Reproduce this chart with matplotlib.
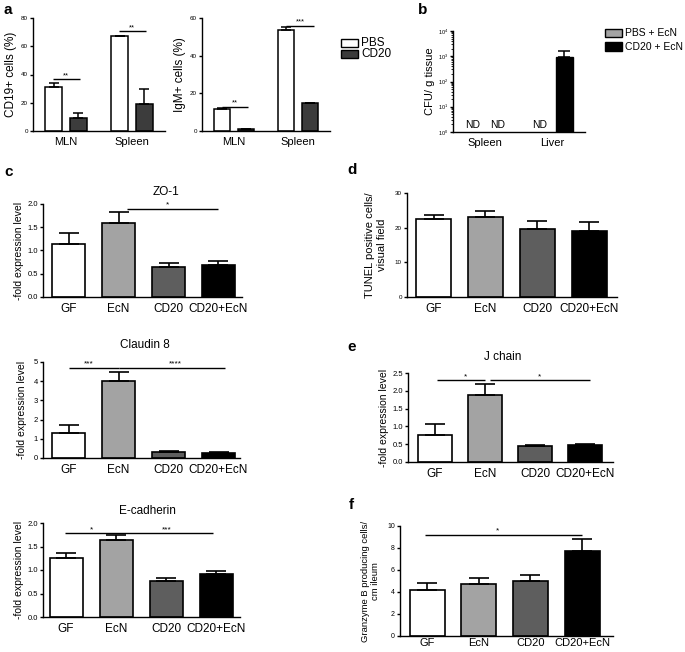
import numpy as np
import matplotlib
matplotlib.use("Agg")
from matplotlib import pyplot as plt
from matplotlib.patches import Rectangle
from matplotlib.ticker import LogLocator, NullFormatter, FormatStrFormatter

plt.rcParams['font.family'] = ['Liberation Sans', 'DejaVu Sans']

W, H = 685, 652

# panel a
groups_a = ['MLN', 'Spleen']
legend_a = ['PBS', 'CD20']
cd19_pbs = [31.0, 67.0]
cd19_pbs_err = [3.0, 0.5]
cd19_cd20 = [9.0, 19.0]
cd19_cd20_err = [4.0, 10.5]
igm_pbs = [11.5, 53.5]
igm_pbs_err = [0.8, 1.5]
igm_cd20 = [1.0, 15.0]
igm_cd20_err = [0.3, 0.0]

# panel b (None = not detected)
groups_b = ['Spleen', 'Liver']
legend_b = ['PBS + EcN', 'CD20 + EcN']
cfu_pbs_ecn = [None, None]
cfu_cd20_ecn = [None, 900.0]
cfu_cd20_ecn_err = [0.0, 700.0]

# panels c-f
groups = ['GF', 'EcN', 'CD20', 'CD20+EcN']
zo1 = [1.15, 1.60, 0.64, 0.69]
zo1_err = [0.23, 0.23, 0.09, 0.09]
claudin8 = [1.28, 4.03, 0.32, 0.24]
claudin8_err = [0.44, 0.47, 0.03, 0.06]
ecad = [1.26, 1.64, 0.76, 0.91]
ecad_err = [0.11, 0.10, 0.07, 0.07]
tunel = [22.4, 23.0, 19.5, 19.1]
tunel_err = [1.2, 1.8, 2.3, 2.5]
jchain = [0.77, 1.87, 0.46, 0.48]
jchain_err = [0.30, 0.33, 0.03, 0.03]
granzyme = [4.15, 4.75, 5.0, 7.7]
granzyme_err = [0.70, 0.50, 0.55, 1.15]

COLORS_4 = ['white', '#a3a3a3', '#5e5e5e', 'black']
COLORS_A = ['white', '#3c3c3c']
COLORS_B = ['#a3a3a3', 'black']

fig = plt.figure(figsize=(W / 100, H / 100), dpi=100)


def make_ax(x0, y0, x1, y1):
    return fig.add_axes([x0 / W, 1 - y1 / H, (x1 - x0) / W, (y1 - y0) / H])


def style(ax, ytick_size, xtick_size, xpad=4):
    for s in ['top', 'right']:
        ax.spines[s].set_visible(False)
    for s in ['left', 'bottom']:
        ax.spines[s].set_linewidth(1.0)
    ax.tick_params(axis='y', direction='out', length=2.5, width=1.0,
                   pad=1.2, labelsize=ytick_size)
    ax.tick_params(axis='x', length=0, pad=xpad, labelsize=xtick_size)


def sig(ax, x0, x1, y, stars, xt=None, size=6):
    ax.plot([x0, x1], [y, y], color='black', lw=1.0, solid_capstyle='butt')
    if xt is None:
        xt = (x0 + x1) / 2
    if stars:
        ax.text(xt, y, stars, ha='center', va='bottom', fontsize=size)


def four_bar(ax, vals, errs, xlim, ylim, yticks, width=0.66, cap=7,
             ytick_size=5.5, xtick_size=8.5, xpad=4):
    x = np.arange(len(groups))
    ax.bar(x, vals, width=width, color=COLORS_4, edgecolor='black',
           linewidth=1.2, zorder=2)
    ax.errorbar(x, vals, yerr=[np.zeros(len(vals)), errs], fmt='none',
                ecolor='black', elinewidth=1.2, capsize=cap, capthick=1.2,
                zorder=3)
    ax.set_xlim(*xlim)
    ax.set_ylim(*ylim)
    ax.set_yticks(yticks)
    ax.set_xticks(x)
    ax.set_xticklabels(groups)
    style(ax, ytick_size, xtick_size, xpad)


def pair_bar(ax, v1, e1, v2, e2, colors, cap=3.5):
    x = np.arange(2)
    off, w = 0.185, 0.26
    for xs, v, e, c in [(x - off, v1, e1, colors[0]), (x + off, v2, e2, colors[1])]:
        ax.bar(xs, v, width=w, color=c, edgecolor='black', linewidth=1.1, zorder=2)
        ax.errorbar(xs, v, yerr=[np.zeros(2), e], fmt='none', ecolor='black',
                    elinewidth=1.1, capsize=cap, capthick=1.1, zorder=3)
    ax.set_xlim(-0.5, 1.5)
    ax.set_xticks(x)
    ax.set_xticklabels(groups_a)
    style(ax, 4.5, 8)


def legend_boxes(x, y0, dy, labels, colors, size=8.5):
    for i, (lab, col) in enumerate(zip(labels, colors)):
        yc = y0 + i * dy
        fig.patches.append(Rectangle((x / W, 1 - (yc + 4) / H), 17 / W, 8 / H,
                                     transform=fig.transFigure, facecolor=col,
                                     edgecolor='black', linewidth=1.0))
        fig.text((x + 20) / W, 1 - yc / H, lab, fontsize=size, va='center', ha='left')


# ---- a ----
ax = make_ax(33, 18, 165, 131)
pair_bar(ax, cd19_pbs, cd19_pbs_err, cd19_cd20, cd19_cd20_err, COLORS_A)
ax.set_ylim(0, 80)
ax.set_yticks([0, 20, 40, 60, 80])
ax.set_ylabel('CD19+ cells (%)', fontsize=8.5, labelpad=3)
sig(ax, -0.2, 0.21, 36.8, '**', size=5.5)
sig(ax, 0.8, 1.21, 70.5, '**', size=5.5)

ax = make_ax(202, 18, 330, 131)
pair_bar(ax, igm_pbs, igm_pbs_err, igm_cd20, igm_cd20_err, COLORS_A)
ax.set_ylim(0, 60)
ax.set_yticks([0, 20, 40, 60])
ax.set_ylabel('IgM+ cells (%)', fontsize=8.5, labelpad=3)
sig(ax, -0.18, 0.22, 12.9, '**', size=5.5)
sig(ax, 0.81, 1.25, 56.0, '***', size=5.5)

legend_boxes(341, 43, 11, legend_a, COLORS_A)

# ---- b ----
ax = make_ax(453, 31, 585, 132)
ax.set_yscale('log')
ax.set_ylim(1, 1e4)
ax.set_xlim(-0.48, 1.49)
xb = np.arange(2)
off, w = 0.18, 0.25
for xs, vals in [(xb - off, cfu_pbs_ecn), (xb + off, cfu_cd20_ecn)]:
    for xi, v in zip(xs, vals):
        if v is None:
            ax.text(xi, 1.15, 'ND', ha='center', va='bottom', fontsize=7.5)
for xi, v, e in zip(xb + off, cfu_cd20_ecn, cfu_cd20_ecn_err):
    if v is not None:
        ax.bar(xi, v, width=w, color=COLORS_B[1], edgecolor='black', zorder=2)
        ax.errorbar(xi, v, yerr=[[0], [e]], fmt='none', ecolor='black',
                    elinewidth=1.1, capsize=4, capthick=1.1, zorder=3)
ax.set_xticks(xb)
ax.set_xticklabels(groups_b)
ax.yaxis.set_major_locator(LogLocator(base=10, numticks=10))
ax.yaxis.set_minor_locator(LogLocator(base=10, subs=np.arange(2, 10), numticks=20))
ax.yaxis.set_minor_formatter(NullFormatter())
style(ax, 4, 8)
ax.tick_params(axis='y', which='minor', length=1.5, width=0.6)
ax.set_ylabel('CFU/ g tissue', fontsize=8, labelpad=2)
legend_boxes(605, 33, 13.5, legend_b, COLORS_B, size=7.5)

# ---- c ----
ax = make_ax(43, 204, 242, 297)
four_bar(ax, zo1, zo1_err, (-0.51, 3.47), (0, 2.0), [0, 0.5, 1.0, 1.5, 2.0])
ax.yaxis.set_major_formatter(FormatStrFormatter('%.1f'))
ax.set_ylabel('-fold expression level', fontsize=7.5, labelpad=2)
sig(ax, 1.17, 2.99, 1.9, '*', xt=1.97)
fig.text(166 / W, 1 - 192 / H, 'ZO-1', fontsize=8.5, ha='center', va='center')

ax = make_ax(43, 362, 240, 458)
four_bar(ax, claudin8, claudin8_err, (-0.51, 3.43), (0, 5), [0, 1, 2, 3, 4, 5])
ax.set_ylabel('-fold expression level', fontsize=7.5, labelpad=5)
sig(ax, 0.0, 1.0, 4.7, '***', xt=0.4)
sig(ax, 1.0, 3.13, 4.7, '****', xt=2.13)
fig.text(145 / W, 1 - 345 / H, 'Claudin 8', fontsize=8.5, ha='center', va='center')

ax = make_ax(43, 523, 240, 617)
four_bar(ax, ecad, ecad_err, (-0.46, 3.48), (0, 2.0), [0, 0.5, 1.0, 1.5, 2.0])
ax.yaxis.set_major_formatter(FormatStrFormatter('%.1f'))
ax.set_ylabel('-fold expression level', fontsize=7.5, labelpad=2)
sig(ax, -0.02, 2.94, 1.78, '')
ax.text(0.52, 1.78, '*', ha='center', va='bottom', fontsize=6)
ax.text(2.02, 1.78, '***', ha='center', va='bottom', fontsize=6)
fig.text(147 / W, 1 - 511 / H, 'E-cadherin', fontsize=8.5, ha='center', va='center')

# ---- d ----
ax = make_ax(407, 193, 617, 297)
four_bar(ax, tunel, tunel_err, (-0.51, 3.53), (0, 30), [0, 10, 20, 30],
         width=0.67, ytick_size=4.5)
ax.set_ylabel('TUNEL positive cells/\nvisual field', fontsize=8, labelpad=6)

# ---- e ----
ax = make_ax(408, 373, 613, 462)
four_bar(ax, jchain, jchain_err, (-0.54, 3.56), (0, 2.5),
         [0, 0.5, 1.0, 1.5, 2.0, 2.5], width=0.68)
ax.yaxis.set_major_formatter(FormatStrFormatter('%.1f'))
ax.set_ylabel('-fold expression level', fontsize=7.5, labelpad=2)
sig(ax, 0.04, 1.0, 2.3, '*', xt=0.62)
sig(ax, 1.1, 3.1, 2.3, '*', xt=2.08)
fig.text(503 / W, 1 - 357 / H, 'J chain', fontsize=8.5, ha='center', va='center')

# ---- f ----
ax = make_ax(400, 526, 613, 636)
four_bar(ax, granzyme, granzyme_err, (-0.53, 3.6), (0, 10), [0, 2, 4, 6, 8, 10],
         width=0.68, ytick_size=5, xtick_size=8, xpad=1.5)
ax.set_ylabel('Granzyme B producing cells/\ncm ileum', fontsize=6.8, labelpad=5)
sig(ax, -0.05, 3.0, 9.2, '*', xt=1.37)

# panel letters
for lab, x, y in [('a', 3, 10), ('b', 418, 10), ('c', 4, 172),
                  ('d', 347, 170), ('e', 347, 347), ('f', 349, 505)]:
    fig.text(x / W, 1 - y / H, lab, fontsize=11, fontweight='bold',
             ha='left', va='center')

fig.savefig('out.png', dpi=100)
